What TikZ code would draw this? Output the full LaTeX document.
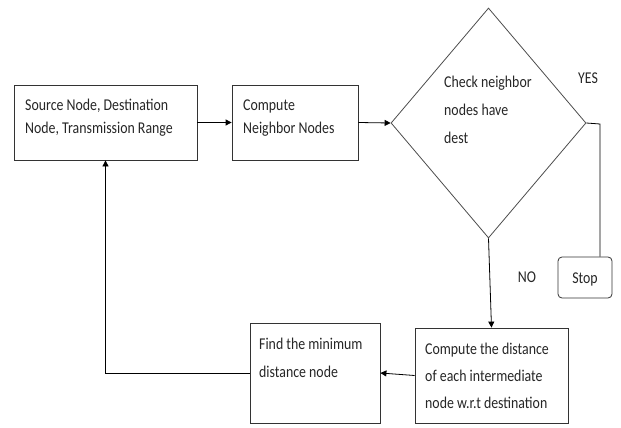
\documentclass[tikz,border=0pt]{standalone}
\usepackage{fontspec}
\newfontfamily\cf[FakeStretch=0.84]{Carlito}
\usetikzlibrary{shapes.geometric,arrows.meta}
\begin{document}
\begin{tikzpicture}[x=1pt,y=-1pt,
  box/.style={draw=black!80,line width=0.8pt,inner sep=0,minimum width=#1},
  txt/.style={anchor=base west,inner sep=0,align=left,text=black!85,font=\cf\fontsize{16.5}{#1}\selectfont},
  lbl/.style={anchor=base,inner sep=0,text=black!85,font=\cf\fontsize{16.5}{20}\selectfont},
  conn/.style={draw=black,line width=0.8pt},
  arr/.style={conn,-{Triangle[length=6pt,width=6pt]}}]
\useasboundingbox (0,0) rectangle (621,428);
% boxes
\node[box=183pt,minimum height=75pt] (src) at (105.5,122.5) {};
\node[box=126pt,minimum height=75pt] (nbr) at (295,122.5) {};
\node[draw=black!70,line width=0.8pt,diamond,inner sep=0,minimum width=195pt,minimum height=230pt] (chk) at (488.5,123) {};
\node[box=54pt,minimum height=41pt,rounded corners=4pt] (stop) at (585,277.5) {};
\node[box=153pt,minimum height=95pt] (dist) at (491.5,375.5) {};
\node[box=130pt,minimum height=100pt] (minn) at (315,373) {};
% texts (anchor = baseline of last line)
\node[txt=23] (t1) at (25,133) {Source Node, Destination\\Node, Transmission Range};
\node[txt=23] (t2) at (243,133) {Compute\\Neighbor Nodes};
\node[txt=28] (t3) at (444,143) {Check neighbor\\nodes have\\dest};
\node[lbl] (t4) at (585,283) {Stop};
\node[txt=27] (t5) at (425,408) {Compute the distance\\of each intermediate\\node w.r.t destination};
\node[txt=28] (t6) at (259,377) {Find the minimum\\distance node};
\node[lbl] (yes) at (588,83) {YES};
\node[lbl] (no) at (527,282) {NO};
% connectors
\coordinate (yc) at (600,124);
\draw[arr] (src.east) -- (nbr.west);
\draw[arr] (nbr.east) -- (chk.west);
\draw[conn] (chk.east) -- (yc) -- (yc |- stop.north);
\draw[arr] (chk.south) -- (dist.north);
\draw[arr] (dist.west) -- (minn.east);
\draw[arr] (minn.west) -| (src.south);
\end{tikzpicture}
\end{document}
